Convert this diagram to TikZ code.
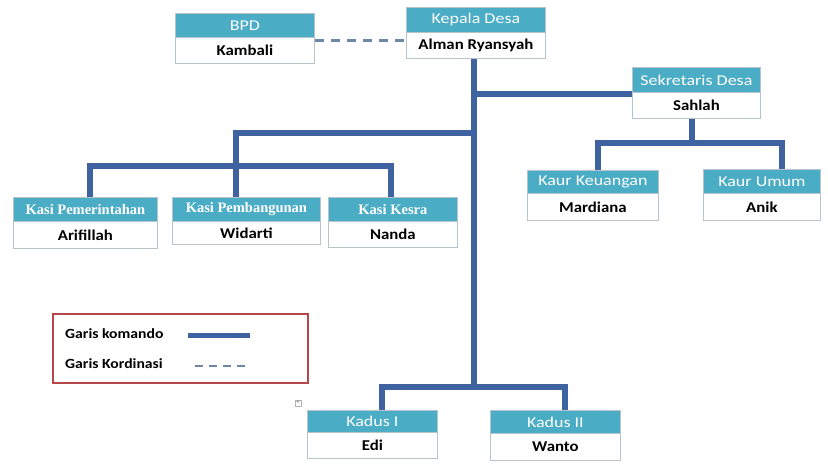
\documentclass[tikz,border=0pt]{standalone}
\usepackage{fontspec}
\setmainfont[FakeStretch=1.12]{Carlito}
\newfontfamily\hdrfont[FakeStretch=1.2]{Carlito}
\newfontfamily\serifhead{Liberation Serif}
\definecolor{hdr}{HTML}{4BACC6}
\definecolor{cmdc}{HTML}{3E63A0}
\definecolor{coordc}{HTML}{7088A8}
\definecolor{boxline}{HTML}{B8C4CC}
\definecolor{legline}{HTML}{B5474B}
\tikzset{
  hdrbox/.style={fill=hdr, draw=boxline, line width=0.8pt, text=white,
    font=\hdrfont\fontsize{15}{15}\selectfont, inner sep=0pt, anchor=north west},
  bodybox/.style={fill=white, draw=boxline, line width=0.8pt, text=black,
    font=\fontsize{15}{16}\bfseries\selectfont, inner sep=0pt, anchor=north west},
  cmdline/.style={draw=cmdc, line width=6pt},
  coordline/.style={draw=coordc, line width=3pt, dash pattern=on 9pt off 7pt},
  legtext/.style={font=\fontsize{14}{15}\bfseries\selectfont, anchor=west, inner sep=0pt},
}
\newcommand\orgbox[8]{%
  \node[hdrbox, minimum width={(#4-#2)*1pt}, minimum height={(#5-#3)*1pt}] (#1h) at (#2,#3) {#7};
  \node[bodybox, minimum width={(#4-#2)*1pt}, minimum height={(#6-#5)*1pt}] (#1) at (#2,#5) {#8};
}
\begin{document}
\begin{tikzpicture}[x=1pt,y=-1pt]
\useasboundingbox[fill=white] (0,0) rectangle (828,467);

% boxes
\orgbox{bpd}{175}{13}{314}{37}{63}{BPD}{Kambali}
\orgbox{kep}{406}{7}{545}{32}{58}{Kepala Desa}{Alman Ryansyah}
\orgbox{sek}{632}{67}{760}{92}{118}{Sekretaris Desa}{Sahlah}
\orgbox{kaurA}{527}{170}{658}{193}{220}{Kaur Keuangan}{Mardiana}
\orgbox{kaurB}{703}{169}{820}{193}{220}{Kaur Umum}{Anik}
\orgbox{kasiA}{13}{197}{157}{221}{248}{\serifhead\fontsize{14.5}{15}\selectfont\bfseries Kasi Pemerintahan}{Arifillah}
\orgbox{kasiB}{172}{197}{320}{221}{244}{\serifhead\fontsize{14.5}{15}\selectfont\bfseries Kasi Pembangunan}{Widarti}
\orgbox{kasiC}{328}{197}{457}{221}{247}{\serifhead\fontsize{14.5}{15}\selectfont\bfseries Kasi Kesra}{Nanda}
\orgbox{kadA}{307}{410}{437}{432}{458}{Kadus I}{Edi}
\orgbox{kadB}{490}{410}{620}{433}{460}{Kadus II}{Wanto}

% junction coordinates
\coordinate (trunk) at (474,387);
\coordinate (kasiUp) at (236,133);
\coordinate (kasiL) at (90,166);
\coordinate (kasiR) at (391,166);
\coordinate (sekD) at (692,143);
\coordinate (kaurL) at (598,143);
\coordinate (kaurR) at (782,143);
\coordinate (kadL) at (382,387);
\coordinate (kadR) at (565,387);

% command lines
\draw[cmdline] (kep.south -| trunk) -- (trunk);
\draw[cmdline] ([yshift=-1pt]sekh.south west -| trunk) -- ([yshift=-1pt]sekh.south west);
\draw[cmdline] (kasiUp -| trunk) -- (kasiUp) -- (kasiUp |- kasiBh.north);
\draw[cmdline] (kasiL |- kasiAh.north) -- (kasiL) -- (kasiR) -- (kasiR |- kasiCh.north);
\draw[cmdline] (sek.south -| sekD) -- (sekD);
\draw[cmdline] (kaurL |- kaurAh.north) -- (kaurL) -- (kaurR) -- (kaurR |- kaurBh.north);
\draw[cmdline] (kadL |- kadAh.north) -- (kadL) -- (kadR) -- (kadR |- kadBh.north);

% coordination line
\draw[coordline] ([yshift=-3pt]bpd.north east) -- ([yshift=-3pt]bpd.north east -| kep.west);

% legend
\node[draw=legline, line width=1.5pt, minimum width=255pt, minimum height=69pt, anchor=north west, inner sep=0pt] (legend) at (52,313) {};
\node[legtext] (legA) at (65,334) {Garis komando};
\node[legtext] (legB) at (65,364) {Garis Kordinasi};
\coordinate (legAs) at (188,335);
\coordinate (legAe) at (250,335);
\coordinate (legBs) at (195,366);
\coordinate (legBe) at (250,366);
\draw[cmdline, line width=5pt] (legAs) -- (legAe);
\draw[coordline, line width=2pt, dash pattern=on 8pt off 6pt] (legBs) -- (legBe);

% small handle mark
\node[draw=gray!60, line width=0.5pt, minimum size=6pt, inner sep=0pt, font=\fontsize{7}{7}\selectfont, text=gray] (handle) at (298,403) {+};
\end{tikzpicture}
\end{document}
